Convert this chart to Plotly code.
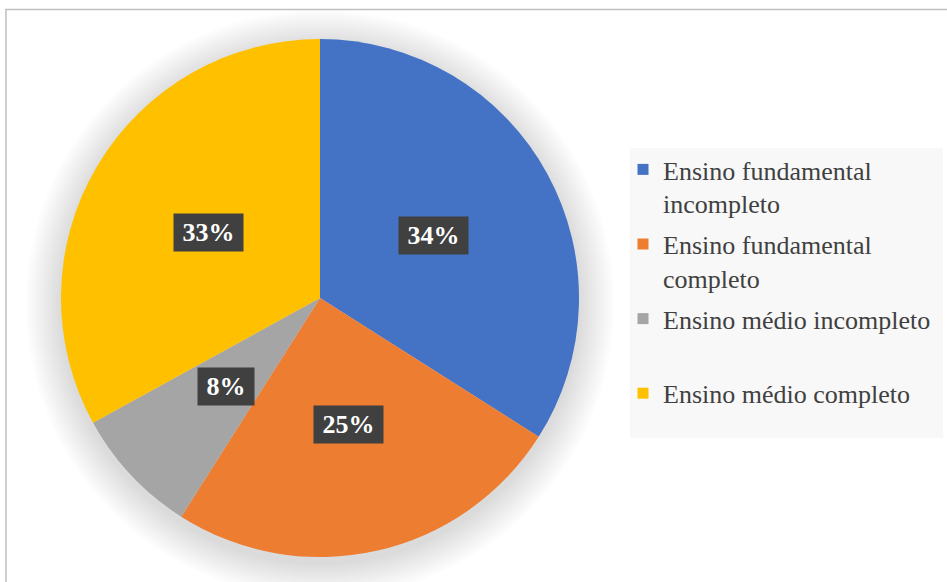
import math
import plotly.graph_objects as go

# ---- data ----
categories = [
    "Ensino fundamental<br>incompleto",
    "Ensino fundamental<br>completo",
    "Ensino médio incompleto<br> ",
    "Ensino médio completo",
]
values = [34, 25, 8, 33]
colors = ["#4472C4", "#ED7D31", "#A5A5A5", "#FFC000"]

W, H = 947, 582
SERIF = "'Liberation Serif', 'Times New Roman', serif"
# pie geometry in pixels
cx_px, cy_px, r_px = 320, 298, 259

dom_x = [(cx_px - r_px) / W, (cx_px + r_px) / W]
dom_y = [1 - (cy_px + r_px) / H, 1 - (cy_px - r_px) / H]

fig = go.Figure()
fig.add_trace(go.Pie(
    labels=[c.replace("<br>", " ").strip() for c in categories],
    values=values,
    sort=False,
    direction="clockwise",
    rotation=0,
    marker=dict(colors=colors, line=dict(width=0)),
    textinfo="none",
    hoverinfo="label+percent",
    domain=dict(x=dom_x, y=dom_y),
    showlegend=False,
))

# legend entries (one group each, so a gap can separate them)
for i, (cat, col) in enumerate(zip(categories, colors)):
    fig.add_trace(go.Scatter(
        x=[None], y=[None], mode="markers", name=cat,
        marker=dict(symbol="square", size=11, color=col),
        legendgroup=f"g{i}", showlegend=True, hoverinfo="skip",
    ))

# soft shadow around the pie
shapes = []
for i in range(12):
    rr = r_px + 2 + i * 3
    shapes.append(dict(
        type="circle", xref="paper", yref="paper", layer="below",
        x0=(cx_px - rr) / W, x1=(cx_px + rr) / W,
        y0=1 - (cy_px + 6 + rr) / H, y1=1 - (cy_px + 6 - rr) / H,
        fillcolor="rgba(0,0,0,0.013)", line=dict(width=0),
    ))

# chart frame
shapes.append(dict(type="rect", xref="paper", yref="paper", layer="below",
                   x0=6 / W, x1=1.02, y0=-0.02, y1=1 - 9.5 / H,
                   line=dict(color="#BFBFBF", width=1.5), fillcolor="rgba(0,0,0,0)"))
# legend background
shapes.append(dict(type="rect", xref="paper", yref="paper", layer="below",
                   x0=630 / W, x1=943 / W, y0=1 - 438 / H, y1=1 - 148 / H,
                   line=dict(width=0), fillcolor="#F8F8F8"))

# data labels at half radius along each slice's mid-angle
annotations = []
total = sum(values)
cum = 0
for v in values:
    mid = (cum + v / 2) / total * 2 * math.pi
    cum += v
    lx = cx_px + 0.5 * r_px * math.sin(mid)
    ly = cy_px - 0.5 * r_px * math.cos(mid)
    pct = f"{round(v / total * 100)}%"
    annotations.append(dict(
        x=lx / W, y=1 - ly / H, xref="paper", yref="paper",
        xanchor="center", yanchor="middle",
        text=f"<b>{pct}</b>", showarrow=False, bgcolor="#404040", borderpad=4,
        width=13 * (len(pct) - 1) + 26 + 9,
        font=dict(family=SERIF, size=26, color="white"),
    ))

fig.update_layout(
    width=W, height=H,
    margin=dict(l=0, r=0, t=0, b=0),
    paper_bgcolor="white",
    plot_bgcolor="rgba(0,0,0,0)",
    xaxis=dict(visible=False),
    yaxis=dict(visible=False),
    shapes=shapes,
    annotations=annotations,
    showlegend=True,
    legend=dict(
        x=623 / W, y=1 - 146 / H, xanchor="left", yanchor="top",
        bgcolor="rgba(0,0,0,0)", valign="top",
        font=dict(family=SERIF, size=26, color="#404040"),
        tracegroupgap=4,
    ),
)

fig.write_html("out.html", config={"displayModeBar": False},
               post_script="document.body.style.margin='0';")
